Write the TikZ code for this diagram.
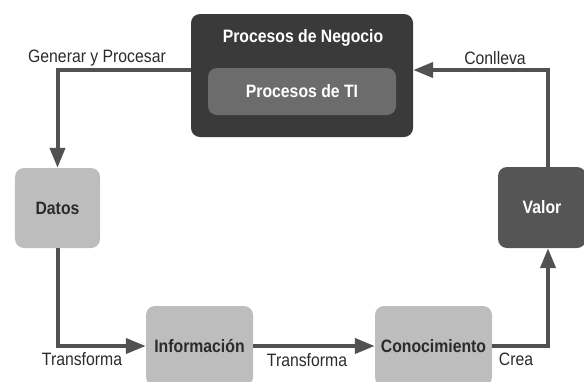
\documentclass[tikz,border=0pt]{standalone}
\usepackage{fontspec}
\setmainfont{Liberation Sans}[FakeStretch=0.88]
\usetikzlibrary{arrows.meta}
\definecolor{oscuro}{HTML}{3A3A3B}
\definecolor{medio}{HTML}{6C6C6D}
\definecolor{claro}{HTML}{BDBDBD}
\definecolor{valorgris}{HTML}{555556}
\definecolor{linea}{HTML}{515152}
\definecolor{letra}{HTML}{2B2B2B}
\tikzset{
  caja/.style = {rectangle, rounded corners=9bp, inner sep=0pt,
                 font=\bfseries\fontsize{18}{20}\selectfont},
  etiqueta/.style = {inner sep=0pt, text=letra,
                 font=\fontsize{18}{20}\selectfont},
  flecha/.style = {draw=linea, line width=4bp,
                 -{Triangle[length=20bp, width=15bp]}}
}

\begin{document}
\begin{tikzpicture}[x=1bp, y=-1bp]
	\def \bw{85bp}
	\def \bh{80bp}
	\useasboundingbox (0,0) rectangle (584,381);
	
	% Procesos de Negocio
	\node[caja, fill=oscuro, minimum width=222bp, minimum height=123bp] (neg) at (302,75.5) {};
	\node[caja, fill=medio, text=white, minimum width=188bp, minimum height=47bp] (ti) at (302,91.5) {Procesos de TI};
	\node[caja, text=white] (negtit) at (303,38) {Procesos de Negocio};
	
	% Ciclo
	\node[caja, fill=claro, text=letra, minimum width=\bw, minimum height=\bh] (datos) at (57.5,208) {Datos};
	\node[caja, fill=claro, text=letra, minimum width=107bp, minimum height=\bh] (info) at (199.5,346) {Información};
	\node[caja, fill=claro, text=letra, minimum width=117bp, minimum height=\bh] (cono) at (433.5,346) {Conocimiento};
	\node[caja, fill=valorgris, text=white, minimum width=88bp, minimum height=81bp] (valor) at (542,207.5) {Valor};
	
	% Flechas
	\draw[flecha] (neg.west |- 0,70) -| (datos.north);
	\draw[flecha] (datos.south) |- (info.west);
	\draw[flecha] (info.east) -- (cono.west);
	\draw[flecha] (cono.east) -| ([xshift=6bp]valor.south);
	\draw[flecha] ([xshift=6bp]valor.north) |- (neg.east |- 0,70);
	
	% Etiquetas
	\node[etiqueta] (lgen) at (97,58) {Generar y Procesar};
	\node[etiqueta] (lconl) at (495,58) {Conlleva};
	\node[etiqueta] (ltr1) at (82,359) {Transforma};
	\node[etiqueta] (ltr2) at (307,360) {Transforma};
	\node[etiqueta] (lcrea) at (516,359) {Crea};
	
\end{tikzpicture}
\end{document}
